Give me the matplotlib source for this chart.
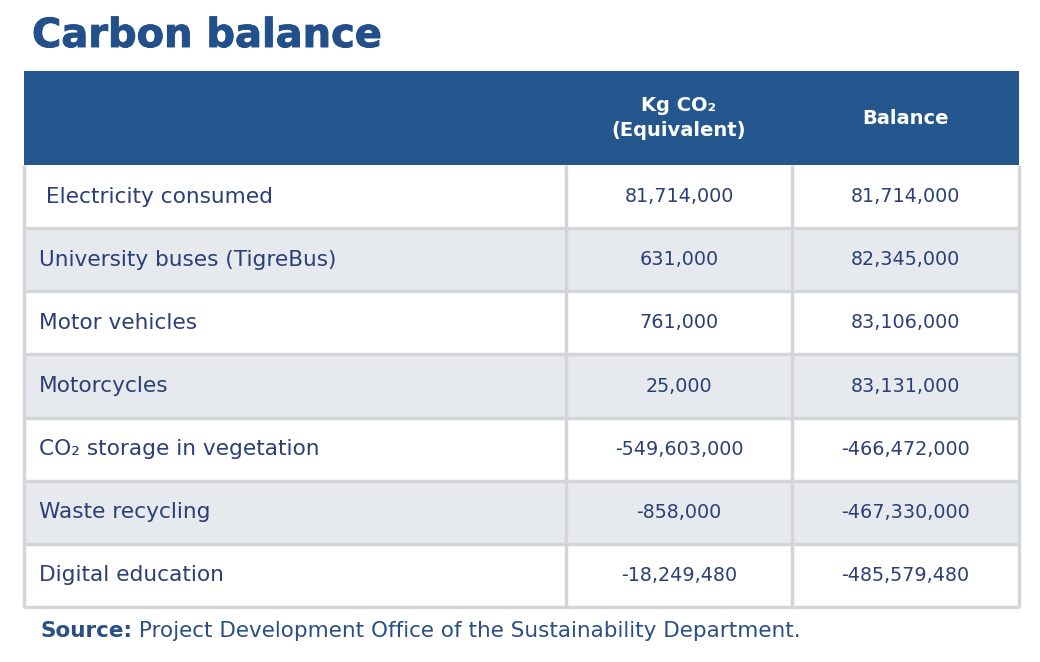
import matplotlib
matplotlib.use("Agg")
import matplotlib.pyplot as plt
import matplotlib.patheffects as pe
from matplotlib.patches import Rectangle

title = "Carbon balance"
headers = ["", "Kg CO\u2082\n(Equivalent)", "Balance"]
categories = [" Electricity consumed", "University buses (TigreBus)", "Motor vehicles",
              "Motorcycles", "CO\u2082 storage in vegetation", "Waste recycling", "Digital education"]
kg_co2 = [81714000, 631000, 761000, 25000, -549603000, -858000, -18249480]
balance = [81714000, 82345000, 83106000, 83131000, -466472000, -467330000, -485579480]
source_bold = "Source:"
source_text = " Project Development Office of the Sustainability Department."

FAM = ["DejaVu Sans"]
HEAD_BG = "#24578e"
TXT = "#2b3f78"
ALT = "#e6e9ed"
GRID = "#d3d5d9"

fig = plt.figure(figsize=(10.4, 6.62), dpi=100)
ax = fig.add_axes([0, 0, 1, 1])
ax.set_xlim(0, 1040)
ax.set_ylim(662, 0)
ax.axis("off")
renderer = fig.canvas.get_renderer()


def width_at10(s, **kw):
    t = ax.text(0, 0, s, fontsize=10, **kw)
    w = t.get_window_extent(renderer).width
    t.remove()
    return w


def fit_size(s, target_px, **kw):
    return 10 * target_px / width_at10(s, **kw)


left, right = 24, 1019
col_edges = [left, 566, 792, right]
head_top, head_bot = 71, 165
row_h = (607 - head_bot) / len(categories)

# title
ts = fit_size(title, 351, fontweight="bold", family=FAM)
ax.text(32, 36, title, fontsize=ts, fontweight="bold", color="#23508a",
        family=FAM, va="center", ha="left",
        path_effects=[pe.withStroke(linewidth=0.7, foreground="#23508a")])

body = fit_size("Electricity consumed", 226, family=FAM)
numsz = fit_size("81,714,000", 109, family=FAM)
headsz = fit_size("Balance", 87, fontweight="bold", family=FAM)

# header
ax.add_patch(Rectangle((left, head_top), right - left, head_bot - head_top,
                       facecolor=HEAD_BG, edgecolor="none"))
for i, h in enumerate(headers):
    if h:
        cx = (col_edges[i] + col_edges[i + 1]) / 2
        ax.text(cx, (head_top + head_bot) / 2, h, color="white", fontsize=headsz,
                fontweight="bold", family=FAM, ha="center", va="center",
                linespacing=1.45)

# rows
for r, (cat, a, b) in enumerate(zip(categories, kg_co2, balance)):
    y0 = head_bot + r * row_h
    bg = "white" if r % 2 == 0 else ALT
    ax.add_patch(Rectangle((left, y0), right - left, row_h, facecolor=bg,
                           edgecolor="none"))
    yc = y0 + row_h / 2
    ax.text(39, yc, cat, color=TXT, fontsize=body, family=FAM, ha="left", va="center")
    for i, v in enumerate([a, b]):
        cx = (col_edges[i + 1] + col_edges[i + 2]) / 2
        ax.text(cx, yc, f"{v:,}", color=TXT, fontsize=numsz, family=FAM,
                ha="center", va="center")

# grid lines
for r in range(1, len(categories) + 1):
    y = head_bot + r * row_h
    ax.plot([left, right], [y, y], color=GRID, lw=2.5, solid_capstyle="butt")
for x in col_edges:
    ax.plot([x, x], [head_bot, 607], color=GRID, lw=2.5, solid_capstyle="butt")

# source
wsum = width_at10(source_bold, fontweight="bold", family=FAM) + width_at10(source_text, family=FAM)
srcsz = 10 * 759 / wsum
t = ax.text(40, 631, source_bold, color="#2a4f85", fontsize=srcsz, fontweight="bold",
            family=FAM, ha="left", va="center")
bb = t.get_window_extent(renderer)
x_end = ax.transData.inverted().transform((bb.x1, bb.y0))[0]
ax.text(x_end, 631, source_text, color="#2a4f85", fontsize=srcsz, family=FAM,
        ha="left", va="center")

fig.savefig("out.png", dpi=100)
